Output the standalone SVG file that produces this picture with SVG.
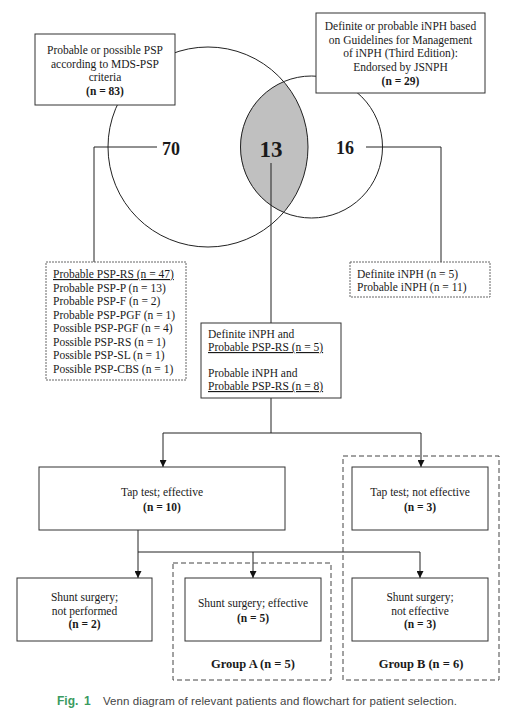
<svg xmlns="http://www.w3.org/2000/svg" width="518" height="712" viewBox="0 0 518 712">
<style>
text{font-family:"Liberation Serif","Times New Roman",serif;font-size:11.5px;fill:#1a1a1a}
.c{text-anchor:middle}
.b{font-weight:bold}
.u{text-decoration:underline}
.box{fill:#fff;stroke:#333;stroke-width:1}
.dot{fill:#fff;stroke:#666;stroke-width:1;stroke-dasharray:2 1}
.grp{fill:none;stroke:#444;stroke-width:1;stroke-dasharray:5 3}
.ln{fill:none;stroke:#222;stroke-width:1}
.circ{fill:none;stroke:#222;stroke-width:1}
.cap{font-family:"Liberation Sans",Arial,sans-serif;font-size:11.5px;fill:#444}
</style>
<defs>
<marker id="ah" viewBox="0 0 10 10" refX="10" refY="5" markerWidth="7" markerHeight="7" orient="auto" markerUnits="userSpaceOnUse">
<path d="M0,0 L10,5 L0,10 z" fill="#111"/>
</marker>
</defs>
<rect width="518" height="712" fill="#fff"/>
<g id="venn">
<path d="M283.6,81.5 A100,100 0 0 1 283.6,212.5 A71,71 0 0 1 283.6,81.5 Z" fill="#c0c0c0"/>
<circle class="circ" cx="208" cy="147" r="100"/>
<circle class="circ" cx="311.5" cy="147" r="71"/>
</g>
<g id="connectors">
<path class="ln" d="M157,147 H94 V262"/>
<path class="ln" d="M366,147 H441 V262"/>
<path class="ln" d="M271,163 V323"/>
<path class="ln" d="M271,398 V433"/>
<path class="ln" d="M163,433 H421"/>
<path class="ln" d="M163,433 V467" marker-end="url(#ah)"/>
<path class="ln" d="M421,433 V467" marker-end="url(#ah)"/>
<path class="ln" d="M138,530 V552 H420"/>
<path class="ln" d="M138,552 V578" marker-end="url(#ah)"/>
<path class="ln" d="M253,552 V578" marker-end="url(#ah)"/>
<path class="ln" d="M420,552 V578" marker-end="url(#ah)"/>
</g>
<g id="psp">
<rect class="box" x="35" y="34" width="140" height="71"/>
<text class="c" x="105" y="54">Probable or possible PSP</text>
<text class="c" x="105" y="67.5">according to MDS-PSP</text>
<text class="c" x="105" y="81">criteria</text>
<text class="c b" x="105" y="95">(n = 83)</text>
</g>
<g id="inph">
<rect class="box" x="316" y="13" width="169" height="80"/>
<text class="c" x="400.5" y="30">Definite or probable iNPH based</text>
<text class="c" x="400.5" y="43.5">on Guidelines for Management</text>
<text class="c" x="400.5" y="57">of iNPH (Third Edition):</text>
<text class="c" x="400.5" y="71">Endorsed by JSNPH</text>
<text class="c b" x="400.5" y="85">(n = 29)</text>
</g>
<g id="counts">
<text class="b" x="162" y="155" style="font-size:18px">70</text>
<text class="b c" x="271" y="157" style="font-size:23px">13</text>
<text class="b" x="336" y="154" style="font-size:18px">16</text>
</g>
<g id="psp-list">
<rect class="dot" x="46" y="262" width="140" height="118"/>
<text class="u" x="53" y="278">Probable PSP-RS (n = 47)</text>
<text x="53" y="291.5">Probable PSP-P (n = 13)</text>
<text x="53" y="305">Probable PSP-F (n = 2)</text>
<text x="53" y="318.5">Probable PSP-PGF (n = 1)</text>
<text x="53" y="332">Possible PSP-PGF (n = 4)</text>
<text x="53" y="345.5">Possible PSP-RS (n = 1)</text>
<text x="53" y="359">Possible PSP-SL (n = 1)</text>
<text x="53" y="372.5">Possible PSP-CBS (n = 1)</text>
</g>
<g id="inph-list">
<rect class="dot" x="350" y="262" width="140" height="35"/>
<text x="357" y="278">Definite iNPH (n = 5)</text>
<text x="357" y="291">Probable iNPH (n = 11)</text>
</g>
<g id="both">
<rect class="box" x="201" y="323" width="140" height="75"/>
<text x="208" y="338">Definite iNPH and</text>
<text class="u" x="208" y="351">Probable PSP-RS (n = 5)</text>
<text x="208" y="377">Probable iNPH and</text>
<text class="u" x="208" y="390">Probable PSP-RS (n = 8)</text>
</g>
<g id="group-b">
<rect class="grp" x="343" y="456" width="156" height="224"/>
<text class="c b" x="421" y="668" style="font-size:12.5px">Group B (n = 6)</text>
</g>
<g id="group-a">
<rect class="grp" x="173" y="563" width="158" height="117"/>
<text class="c b" x="253" y="668" style="font-size:12.5px">Group A (n = 5)</text>
</g>
<g id="tap-eff">
<rect class="box" x="39" y="467" width="246" height="63"/>
<text class="c" x="162" y="496">Tap test; effective</text>
<text class="c b" x="162" y="511">(n = 10)</text>
</g>
<g id="tap-not">
<rect class="box" x="352" y="467" width="136" height="63"/>
<text class="c" x="420" y="496">Tap test; not effective</text>
<text class="c b" x="420" y="511">(n = 3)</text>
</g>
<g id="shunt-none">
<rect class="box" x="17" y="578" width="135" height="63"/>
<text class="c" x="84.5" y="601">Shunt surgery;</text>
<text class="c" x="84.5" y="614.5">not performed</text>
<text class="c b" x="84.5" y="628">(n = 2)</text>
</g>
<g id="shunt-eff">
<rect class="box" x="185" y="578" width="136" height="63"/>
<text class="c" x="253" y="607">Shunt surgery; effective</text>
<text class="c b" x="253" y="622">(n = 5)</text>
</g>
<g id="shunt-not">
<rect class="box" x="352" y="578" width="136" height="63"/>
<text class="c" x="420" y="601">Shunt surgery;</text>
<text class="c" x="420" y="614.5">not effective</text>
<text class="c b" x="420" y="628">(n = 3)</text>
</g>
<g id="caption">
<text class="cap" x="57" y="705" style="font-weight:bold;fill:#3a9a60;font-size:12px">Fig.</text>
<text class="cap" x="84" y="705" style="font-weight:bold;fill:#3a9a60;font-size:12px">1</text>
<text class="cap" x="103" y="705" textLength="354" lengthAdjust="spacing">Venn diagram of relevant patients and flowchart for patient selection.</text>
</g>
</svg>
